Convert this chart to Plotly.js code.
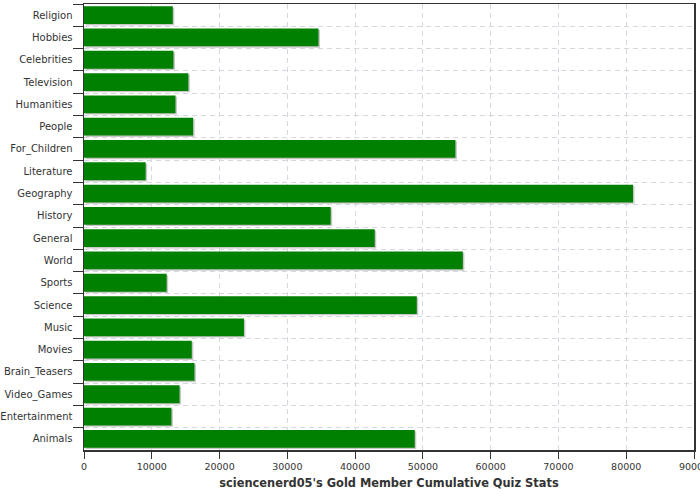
<!DOCTYPE html>
<html>
<head>
<meta charset="utf-8">
<script src="https://cdn.plot.ly/plotly-3.0.1.min.js"></script>
<style>html,body{margin:0;padding:0;background:#fff;}#chart{width:700px;height:500px;}</style>
</head>
<body>
<div id="chart"></div>
<script>
const categories = ["Religion","Hobbies","Celebrities","Television","Humanities","People","For_Children","Literature","Geography","History","General","World","Sports","Science","Music","Movies","Brain_Teasers","Video_Games","Entertainment","Animals"];
const values = [13100,34600,13200,15400,13500,16100,54800,9100,81000,36400,42900,55900,12200,49100,23600,15900,16300,14100,12900,48800];
const xTicks = [0,10000,20000,30000,40000,50000,60000,70000,80000,90000];
const chartTitle = "sciencenerd05's Gold Member Cumulative Quiz Stats";

const xMax = 90000;
const plotWidthPx = 610;
const shadowShift = xMax / plotWidthPx * 1.5;

const shadow = {
  type: 'bar', orientation: 'h',
  y: categories, x: values,
  base: shadowShift,
  width: 0.8, offset: -0.4 + 0.06,
  marker: {color: '#c8c8c8', line: {width: 0}},
  hoverinfo: 'skip', showlegend: false
};
const bars = {
  type: 'bar', orientation: 'h',
  y: categories, x: values,
  width: 0.8, offset: -0.4,
  marker: {color: '#008000', line: {width: 0}},
  showlegend: false
};

const gridColor = '#d3d9de';
const fam = 'DejaVu Sans, Verdana, sans-serif';
const layout = {
  width: 700, height: 500,
  margin: {l: 84, r: 6, t: 4, b: 50},
  paper_bgcolor: '#fff', plot_bgcolor: '#fff',
  barmode: 'overlay',
  font: {family: fam, size: 10, color: '#333'},
  xaxis: {
    range: [0, xMax], tickvals: xTicks, ticktext: xTicks.map(String),
    showgrid: true, gridcolor: gridColor, griddash: '5px,4px', gridwidth: 1,
    zeroline: false,
    showline: true, linecolor: '#333', linewidth: 1.5, mirror: true,
    ticks: 'outside', ticklen: 7, tickcolor: '#333',
    ticklabeloverflow: 'allow',
    tickfont: {size: 9.5, color: '#333'},
    title: {text: chartTitle, font: {size: 11.4, color: '#333', family: fam, weight: 'bold'}, standoff: 8}
  },
  yaxis: {
    type: 'category', categoryorder: 'array', categoryarray: categories,
    autorange: 'reversed', tickson: 'boundaries',
    showgrid: true, gridcolor: gridColor, griddash: '5px,4px', gridwidth: 1,
    showline: true, linecolor: '#333', linewidth: 1.5, mirror: true,
    ticks: 'outside', ticklen: 10, tickcolor: '#333',
    ticklabelstandoff: 8,
    tickfont: {size: 10, color: '#333'}
  }
};
Plotly.newPlot('chart', [shadow, bars], layout, {displayModeBar: false, staticPlot: true});
</script>
</body>
</html>
